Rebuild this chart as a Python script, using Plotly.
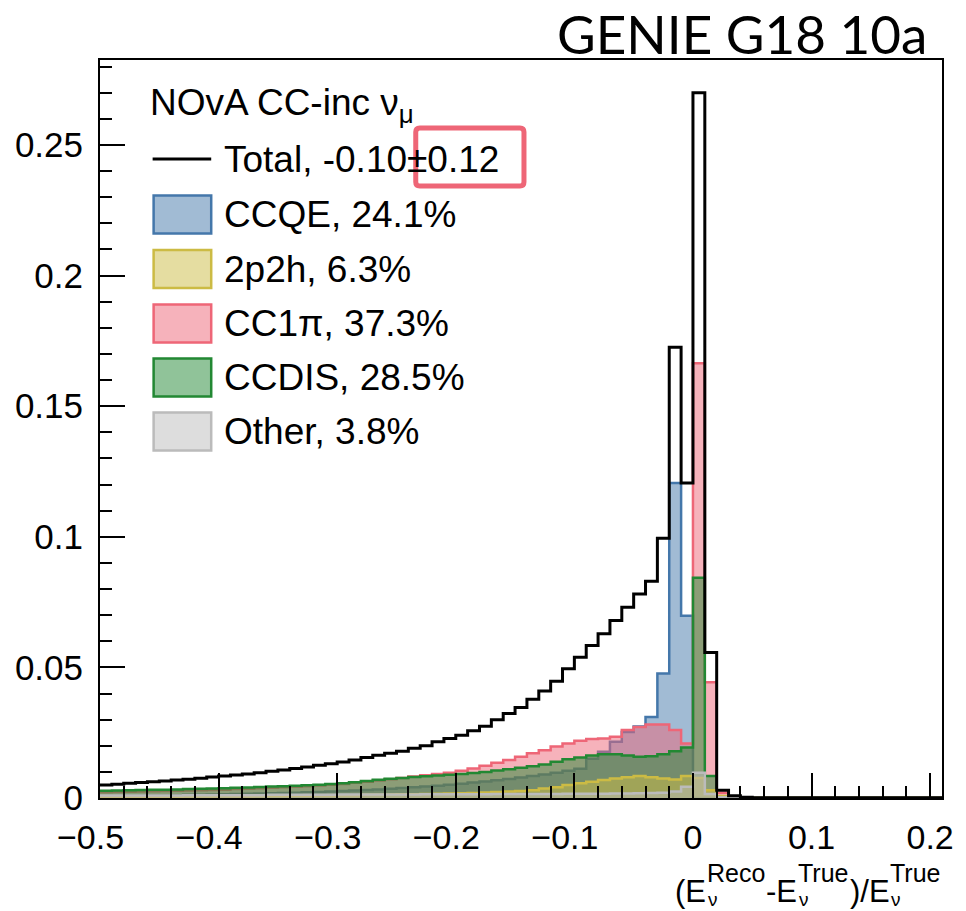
import plotly.graph_objects as go

# ---------------- data ----------------
bin_low = -0.5
bin_width = 0.01
n_bins = 71  # -0.50 ... 0.21

total = [0.0050, 0.0053, 0.0056, 0.0059, 0.0062, 0.0065, 0.0069, 0.0072, 0.0076, 0.0080,
         0.0084, 0.0088, 0.0092, 0.0097, 0.0102, 0.0107, 0.0113, 0.0119, 0.0125, 0.0131,
         0.0138, 0.0145, 0.0155, 0.0164, 0.0171, 0.0179, 0.0190, 0.0200, 0.0215, 0.0228,
         0.0240, 0.0257, 0.0275, 0.0300, 0.0323, 0.0346, 0.0378, 0.0410, 0.0447, 0.0495,
         0.0539, 0.0584, 0.0629, 0.0679, 0.0730, 0.0781, 0.0830, 0.0994, 0.1725, 0.1206,
         0.2700, 0.0557, 0.0030, 0.0009, 0.0003, 0.0001, 0.0001, 0.0001, 0.0001, 0.0001,
         0.0001, 0.0001, 0.0001, 0.0001, 0.0001, 0.0001, 0.0001, 0.0001, 0.0001, 0.0001,
         0.0001]

ccqe = [0.0008, 0.0008, 0.0009, 0.0009, 0.0010, 0.0010, 0.0011, 0.0012, 0.0012, 0.0013,
        0.0014, 0.0015, 0.0016, 0.0017, 0.0018, 0.0019, 0.0020, 0.0022, 0.0023, 0.0025,
        0.0027, 0.0029, 0.0031, 0.0033, 0.0035, 0.0038, 0.0041, 0.0044, 0.0047, 0.0051,
        0.0055, 0.0059, 0.0063, 0.0068, 0.0073, 0.0078, 0.0084, 0.0090, 0.0097, 0.0104,
        0.0112, 0.0150, 0.0177, 0.0215, 0.0253, 0.0274, 0.0310, 0.0477, 0.1206, 0.0698,
        0.0, 0.0, 0.0, 0.0, 0.0, 0.0, 0.0, 0.0, 0.0, 0.0,
        0.0, 0.0, 0.0, 0.0, 0.0, 0.0, 0.0, 0.0, 0.0, 0.0,
        0.0]

mec = [0.0004, 0.0004, 0.0004, 0.0005, 0.0005, 0.0005, 0.0005, 0.0006, 0.0006, 0.0006,
       0.0007, 0.0007, 0.0007, 0.0008, 0.0008, 0.0008, 0.0009, 0.0009, 0.0010, 0.0010,
       0.0011, 0.0011, 0.0012, 0.0012, 0.0013, 0.0014, 0.0014, 0.0015, 0.0016, 0.0017,
       0.0018, 0.0019, 0.0021, 0.0023, 0.0025, 0.0027, 0.0030, 0.0036, 0.0041, 0.0050,
       0.0056, 0.0062, 0.0069, 0.0075, 0.0079, 0.0084, 0.0079, 0.0075, 0.0071, 0.0084,
       0.0077, 0.0030, 0.0008, 0.0003, 0.0001, 0.0001, 0.0001, 0.0001, 0.0001, 0.0001,
       0.0001, 0.0001, 0.0001, 0.0001, 0.0001, 0.0001, 0.0001, 0.0001, 0.0001, 0.0001,
       0.0001]

res = [0.0022, 0.0023, 0.0024, 0.0025, 0.0026, 0.0027, 0.0028, 0.0029, 0.0030, 0.0031,
       0.0032, 0.0034, 0.0035, 0.0037, 0.0039, 0.0041, 0.0043, 0.0045, 0.0048, 0.0051,
       0.0054, 0.0058, 0.0062, 0.0067, 0.0072, 0.0077, 0.0082, 0.0087, 0.0092, 0.0097,
       0.0104, 0.0113, 0.0123, 0.0135, 0.0145, 0.0158, 0.0171, 0.0183, 0.0197, 0.0209,
       0.0219, 0.0226, 0.0228, 0.0234, 0.0260, 0.0272, 0.0281, 0.0281, 0.0260, 0.0209,
       0.1664, 0.0443, 0.0020, 0.0005, 0.0001, 0.0001, 0.0001, 0.0001, 0.0001, 0.0001,
       0.0001, 0.0001, 0.0001, 0.0001, 0.0001, 0.0001, 0.0001, 0.0001, 0.0001, 0.0001,
       0.0001]

dis = [0.0028, 0.0029, 0.0030, 0.0031, 0.0032, 0.0032, 0.0033, 0.0034, 0.0035, 0.0036,
       0.0037, 0.0039, 0.0040, 0.0042, 0.0044, 0.0045, 0.0047, 0.0049, 0.0051, 0.0054,
       0.0056, 0.0060, 0.0065, 0.0070, 0.0074, 0.0077, 0.0080, 0.0083, 0.0086, 0.0089,
       0.0092, 0.0096, 0.0100, 0.0105, 0.0110, 0.0116, 0.0122, 0.0128, 0.0139, 0.0148,
       0.0155, 0.0163, 0.0167, 0.0167, 0.0163, 0.0158, 0.0160, 0.0167, 0.0179, 0.0193,
       0.0843, 0.0084, 0.0006, 0.0001, 0.0001, 0.0001, 0.0001, 0.0001, 0.0001, 0.0001,
       0.0001, 0.0001, 0.0001, 0.0001, 0.0001, 0.0001, 0.0001, 0.0001, 0.0001, 0.0001,
       0.0001]

other = [0.0010, 0.0010, 0.0010, 0.0010, 0.0010, 0.0010, 0.0010, 0.0011, 0.0011, 0.0011,
         0.0011, 0.0011, 0.0011, 0.0011, 0.0012, 0.0012, 0.0012, 0.0012, 0.0012, 0.0012,
         0.0013, 0.0013, 0.0013, 0.0013, 0.0013, 0.0013, 0.0013, 0.0014, 0.0014, 0.0014,
         0.0014, 0.0014, 0.0014, 0.0015, 0.0015, 0.0015, 0.0015, 0.0015, 0.0015, 0.0016,
         0.0016, 0.0016, 0.0016, 0.0017, 0.0017, 0.0018, 0.0019, 0.0020, 0.0025, 0.0043,
         0.0097, 0.0015, 0.0003, 0.0001, 0.0001, 0.0001, 0.0001, 0.0001, 0.0001, 0.0001,
         0.0001, 0.0001, 0.0001, 0.0001, 0.0001, 0.0001, 0.0001, 0.0001, 0.0001, 0.0001,
         0.0001]

legend_header = "NOvA CC-inc ν<sub>μ</sub>"
legend_labels = ["Total, -0.10±0.12", "CCQE, 24.1%", "2p2h, 6.3%", "CC1π, 37.3%",
                 "CCDIS, 28.5%", "Other, 3.8%"]
title_text = "GENIE G18 10a"

x_tickvals = [-0.5, -0.4, -0.3, -0.2, -0.1, 0.0, 0.1, 0.2]
x_ticktext = ["−0.5", "−0.4", "−0.3", "−0.2", "−0.1", "0", "0.1", "0.2"]
y_tickvals = [0, 0.05, 0.1, 0.15, 0.2, 0.25]
y_ticktext = ["0", "0.05", "0.1", "0.15", "0.2", "0.25"]

# ---------------- styling ----------------
W, H = 966, 911
PL, PR, PT, PB = 100, 948, 60, 798
XR = [-0.5, 0.21]
YR = [0, 0.2825]
FONT = "Liberation Sans, Arial, Helvetica, sans-serif"

colors = {
    "CCQE": "#4477AA",
    "2p2h": "#CCBB44",
    "CC1pi": "#EE6677",
    "CCDIS": "#228833",
    "Other": "#BBBBBB",
}


def rgba(hexc, a):
    hexc = hexc.lstrip("#")
    r, g, b = int(hexc[0:2], 16), int(hexc[2:4], 16), int(hexc[4:6], 16)
    return f"rgba({r},{g},{b},{a})"


def px(x):
    return (x - PL) / (PR - PL)


def py(y):
    return (PB - y) / (PB - PT)


edges = [round(bin_low + i * bin_width, 4) for i in range(n_bins + 1)]

fig = go.Figure()


def add_hist(vals, color, fill=True, width=2.5):
    yv = list(vals) + [vals[-1]]
    fig.add_trace(go.Scatter(
        x=edges, y=yv, mode="lines", line_shape="hv",
        line=dict(color=color, width=width),
        fill="tozeroy" if fill else None,
        fillcolor=rgba(color, 0.5) if fill else None,
        showlegend=False, hoverinfo="skip"))


add_hist(ccqe, colors["CCQE"])
add_hist(res, colors["CC1pi"])
add_hist(dis, colors["CCDIS"])
add_hist(mec, colors["2p2h"])
add_hist(other, colors["Other"])
add_hist(total, "#000000", fill=False, width=3)

shapes = []
annotations = []

# legend (drawn manually in ROOT style)
LEG_FS = 37
annotations.append(dict(x=px(148), y=py(105), xref="paper", yref="paper",
                        text=legend_header, showarrow=False, xanchor="left",
                        yanchor="middle", font=dict(family=FONT, size=LEG_FS, color="black")))
row_y = [159, 214.5, 269, 323.5, 377.5, 431.5]
shapes.append(dict(type="line", xref="paper", yref="paper",
                   x0=px(153), x1=px(212), y0=py(row_y[0]), y1=py(row_y[0]),
                   line=dict(color="black", width=3)))
keys = ["CCQE", "2p2h", "CC1pi", "CCDIS", "Other"]
for k, yc in zip(keys, row_y[1:]):
    shapes.append(dict(type="rect", xref="paper", yref="paper",
                       x0=px(154), x1=px(212), y0=py(yc + 19), y1=py(yc - 19),
                       line=dict(color=colors[k], width=2.5),
                       fillcolor=rgba(colors[k], 0.5)))
for lab, yc in zip(legend_labels, row_y):
    annotations.append(dict(x=px(223), y=py(yc), xref="paper", yref="paper",
                            text=lab, showarrow=False, xanchor="left", yanchor="middle",
                            font=dict(family=FONT, size=LEG_FS, color="black")))

# highlight box (rounded corners)
bx0, bx1, by0, by1, rr = 418, 527, 128, 186, 4
path = (f"M {px(bx0 + rr)},{py(by0)} L {px(bx1 - rr)},{py(by0)} "
        f"Q {px(bx1)},{py(by0)} {px(bx1)},{py(by0 + rr)} "
        f"L {px(bx1)},{py(by1 - rr)} Q {px(bx1)},{py(by1)} {px(bx1 - rr)},{py(by1)} "
        f"L {px(bx0 + rr)},{py(by1)} Q {px(bx0)},{py(by1)} {px(bx0)},{py(by1 - rr)} "
        f"L {px(bx0)},{py(by0 + rr)} Q {px(bx0)},{py(by0)} {px(bx0 + rr)},{py(by0)} Z")
shapes.append(dict(type="path", xref="paper", yref="paper", path=path,
                   line=dict(color="#EE6677", width=5), fillcolor="rgba(0,0,0,0)"))

# title
annotations.append(dict(x=px(935), y=py(34), xref="paper", yref="paper",
                        text=title_text, showarrow=False, xanchor="right", yanchor="middle",
                        font=dict(family="Lato, sans-serif", size=53, color="black")))

# x axis title built from pieces (super/subscripts stacked like ROOT's E_{#nu}^{Reco})
cw = {'(': 0.333, ')': 0.333, 'E': 0.667, 'R': 0.722, 'e': 0.556, 'c': 0.5,
      'o': 0.556, '-': 0.333, 'T': 0.611, 'r': 0.333, 'u': 0.556, '/': 0.278}
MAIN, SUP, SUB = 31, 25, 19
pieces = [("(E", "m"), ("Reco", "s"), ("-E", "m"), ("True", "s"), (")/E", "m"), ("True", "s")]


def tw(t, s):
    return sum(cw.get(c, 0.55) for c in t) * s


total_w = sum(tw(t, MAIN if k == "m" else SUP) for t, k in pieces) + 6
cx = 947 - total_w
for t, k in pieces:
    if k == "m":
        annotations.append(dict(x=px(cx - 1), y=py(892), xref="paper", yref="paper", text=t,
                                showarrow=False, xanchor="left", yanchor="middle",
                                font=dict(family=FONT, size=MAIN, color="black")))
        cx += tw(t, MAIN)
    else:
        cx += 1
        annotations.append(dict(x=px(cx - 1), y=py(873), xref="paper", yref="paper", text=t,
                                showarrow=False, xanchor="left", yanchor="middle",
                                font=dict(family=FONT, size=SUP, color="black")))
        annotations.append(dict(x=px(cx), y=py(899.5), xref="paper", yref="paper", text="ν",
                                showarrow=False, xanchor="left", yanchor="middle",
                                font=dict(family=FONT, size=SUB, color="black")))
        cx += tw(t, SUP) + 1

fig.update_layout(
    width=W, height=H,
    margin=dict(l=PL, r=W - PR, t=PT, b=H - PB, pad=0),
    paper_bgcolor="white", plot_bgcolor="white",
    showlegend=False,
    shapes=shapes, annotations=annotations,
    font=dict(family=FONT, color="black"),
)
fig.update_xaxes(
    range=XR, showgrid=False, zeroline=False,
    showline=True, linecolor="black", linewidth=2, mirror=True,
    ticks="inside", ticklen=25, tickwidth=2, tickcolor="black",
    tickvals=x_tickvals, ticktext=[t + ("\u2007" if t.startswith("−") else "") for t in x_ticktext],
    tickfont=dict(family=FONT, size=34, color="black"),
    ticklabelstandoff=8,
    minor=dict(dtick=0.02, tick0=-0.5, ticks="inside", ticklen=12, tickwidth=2,
               tickcolor="black", showgrid=False),
)
fig.update_yaxes(
    range=YR, showgrid=False, zeroline=False,
    showline=True, linecolor="black", linewidth=2, mirror=True,
    ticks="inside", ticklen=25, tickwidth=2, tickcolor="black",
    tickvals=y_tickvals, ticktext=y_ticktext,
    tickfont=dict(family=FONT, size=35, color="black"),
    ticklabelstandoff=8,
    minor=dict(dtick=0.01, tick0=0, ticks="inside", ticklen=12, tickwidth=2,
               tickcolor="black", showgrid=False),
)

fig.write_html("out.html", config={"displayModeBar": False})
